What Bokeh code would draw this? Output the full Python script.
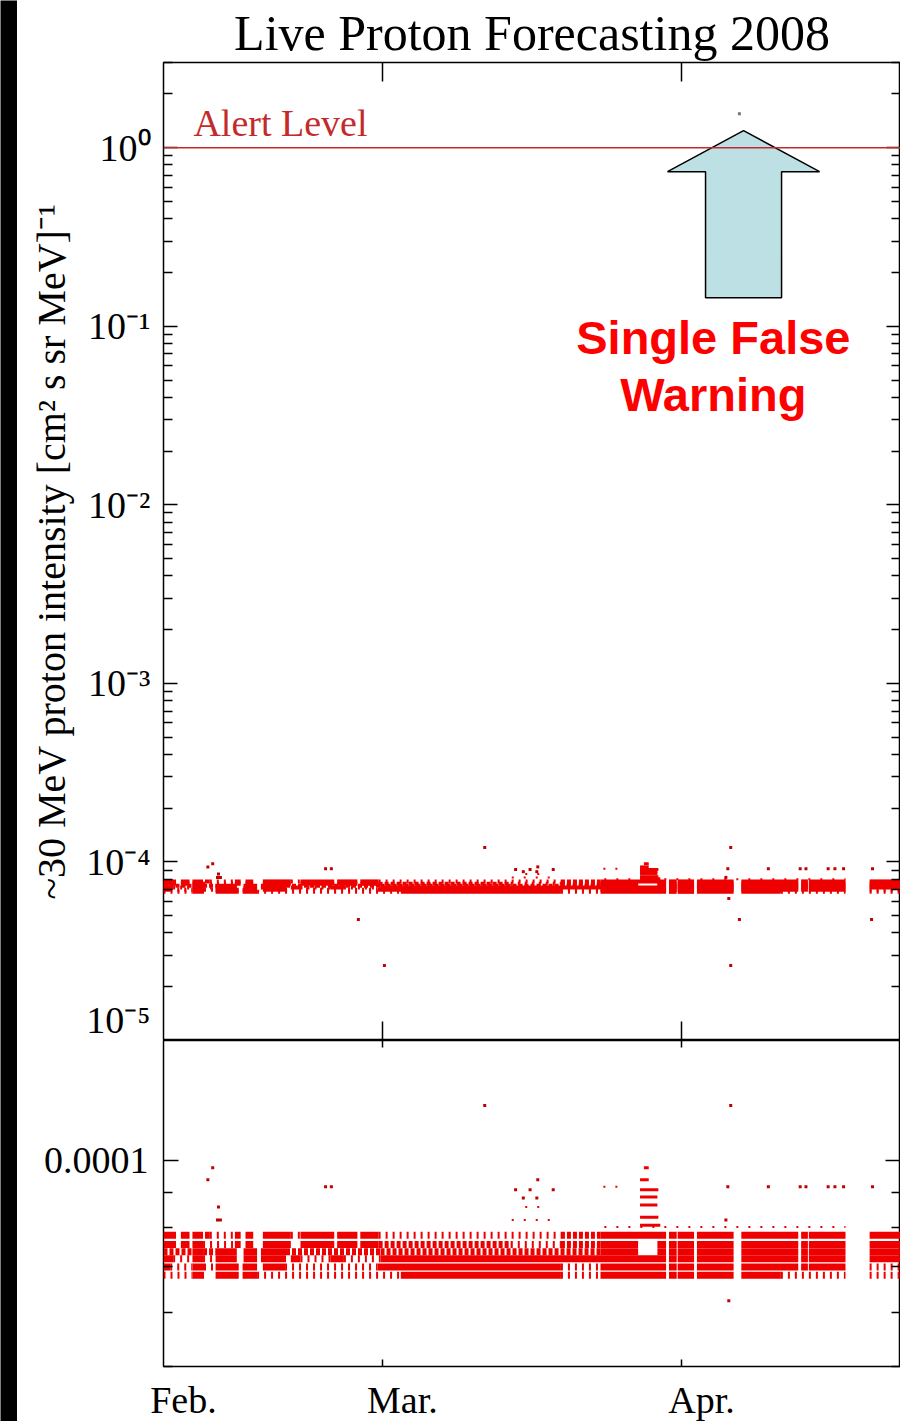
from bokeh.plotting import figure
from bokeh.models import (ColumnDataSource, Range1d, FixedTicker, LogAxis,
                          LinearAxis, Label, Span)
from bokeh.layouts import row, column
from bokeh.embed import file_html
from bokeh.resources import INLINE

# ------------------------------------------------------------------ data
title_text = "Live Proton Forecasting 2008"
y_label = "~30 MeV proton intensity [cm² s sr MeV]⁻¹"

# x axis: day of year 2008
x_start, x_end = 38.3, 114.7
month_labels = ["Feb.", "Mar.", "Apr."]
month_days = [38.3, 61.0, 92.0]
tick_days = [61.0, 92.0]

decade_ticks = [1e-5, 1e-4, 1e-3, 1e-2, 1e-1, 1.0]
decade_labels = ["10⁻⁵", "10⁻⁴", "10⁻³", "10⁻²", "10⁻¹", "10⁰"]
zoom_ticks = [1e-4]
zoom_labels = ["0.0001"]

alert_level = 1.0
alert_text = "Alert Level"
warn_day = 98.0
warn_value = 1.55
warn_text = ["Single False", "Warning"]

# quantised intensity rows of the background band
row_levels = [7.78e-5, 7.54e-5, 7.36e-5, 7.19e-5, 6.99e-5, 6.80e-5]

row1_dense = [(38.3, 39.6), (40.1, 41.0), (41.3, 42.4), (42.6, 43.1), (45.7, 46.3),
              (46.8, 47.6), (48.6, 51.5), (52.5, 56.0), (56.3, 58.4), (58.7, 60.6),
              (83.6, 90.4), (90.7, 91.5), (91.6, 93.3), (93.6, 97.4), (98.2, 104.1),
              (104.4, 105.1), (105.2, 109.0), (111.5, 114.7)]
row1_medium = [(79.5, 83.6)]
row1_sparse = [(43.1, 45.7), (51.5, 52.5), (60.6, 79.5)]

row2_dense = [(38.3, 39.6), (40.1, 41.0), (41.3, 42.4), (45.7, 46.3), (46.8, 47.6),
              (48.6, 51.5), (52.5, 56.0), (56.3, 58.4), (58.7, 60.6), (83.6, 87.5),
              (89.5, 90.4), (90.7, 91.5), (91.6, 93.3), (93.6, 97.4), (98.2, 104.1),
              (104.4, 105.1), (105.2, 109.0), (111.5, 114.7)]
row2_medium = [(60.6, 74.3), (79.5, 83.6)]
row2_sparse = [(42.4, 45.7), (74.3, 79.5)]

row3_dense = [(41.3, 42.4), (43.7, 45.9), (46.6, 48.0), (48.4, 51.0), (83.6, 87.5),
              (89.5, 90.4), (90.7, 91.5), (91.6, 93.3), (93.6, 97.4), (98.2, 104.1),
              (104.4, 105.1), (105.2, 109.0), (111.5, 114.7)]
row3_medium = [(38.3, 41.3), (42.4, 43.7), (51.0, 60.8), (60.8, 83.6)]
row3_sparse = []

row4_dense = [(38.3, 39.3), (41.3, 42.4), (43.7, 45.9), (46.6, 48.0), (48.4, 51.0),
              (51.5, 52.5), (55.6, 57.0), (60.8, 90.4), (90.7, 91.5), (91.6, 93.3),
              (93.6, 97.4), (98.2, 104.1), (104.4, 105.1), (105.2, 109.0), (111.5, 114.7)]
row4_medium = []
row4_sparse = [(39.3, 41.3), (42.4, 43.7), (52.5, 55.6), (57.0, 60.8)]

row5_dense = [(38.3, 39.0), (41.3, 42.5), (43.7, 46.1), (46.5, 48.0), (48.6, 50.9),
              (60.5, 79.5), (83.6, 90.4), (90.7, 91.5), (91.6, 93.3), (93.6, 97.4),
              (98.2, 104.1), (104.4, 105.1), (105.2, 109.0)]
row5_medium = []
row5_sparse = [(39.0, 41.3), (42.5, 43.7), (50.9, 60.5), (79.5, 83.6), (111.5, 114.7)]

row6_dense = [(41.3, 42.5), (43.7, 46.1), (46.5, 48.0), (62.9, 79.5), (83.6, 90.4),
              (90.7, 91.5), (91.6, 93.3), (93.6, 97.4), (98.2, 102.3)]
row6_medium = []
row6_sparse = [(38.3, 41.3), (48.0, 62.9), (79.5, 83.6), (102.3, 109.0), (111.5, 114.7)]

# enhancement on ~27 March: short runs of points
spike_levels = [9.77e-5, 9.38e-5, 9.07e-5, 8.85e-5, 8.62e-5, 8.27e-5, 8.05e-5]
spike_start = [88.1, 87.7, 87.7, 87.7, 87.7, 87.7, 87.7]
spike_end = [88.6, 88.6, 89.6, 89.5, 89.5, 89.6, 89.8]

# loose rows of scattered points
loose_levels = [8.00e-5, 9.16e-5, 8.19e-5, 8.56e-5]
loose_start = [84.0, 83.9, 74.4, 75.8]
loose_end = [109.0, 85.9, 78.4, 77.5]

# isolated points
pt_day = [43.4, 42.9, 44.0, 43.9, 44.2, 55.1, 55.7, 71.6, 97.1, 96.9, 96.6,
          58.5, 61.2, 97.1, 98.0, 111.7, 77.1, 74.8, 76.3, 78.7, 75.6, 77.0,
          96.8, 101.0, 104.3, 104.9, 107.2, 107.9, 108.8, 111.8]
pt_val = [9.77e-5, 9.38e-5, 8.56e-5, 8.19e-5, 8.19e-5, 9.16e-5, 9.16e-5, 1.205e-4,
          1.205e-4, 6.24e-5, 8.19e-5, 4.76e-5, 2.63e-5, 2.63e-5, 4.76e-5, 4.76e-5,
          9.38e-5, 9.07e-5, 9.07e-5, 9.07e-5, 8.82e-5, 8.82e-5, 9.16e-5, 9.16e-5,
          9.16e-5, 9.16e-5, 9.16e-5, 9.16e-5, 9.16e-5, 9.16e-5]

# ------------------------------------------------------------------ styles
SERIF = "Liberation Serif"
RED = "#ee0000"
ALERT_RED = "#c42a2a"
FRAME_W = 737
LEFT = 146

rows = [
    (row_levels[0], row1_dense, row1_medium, row1_sparse),
    (row_levels[1], row2_dense, row2_medium, row2_sparse),
    (row_levels[2], row3_dense, row3_medium, row3_sparse),
    (row_levels[3], row4_dense, row4_medium, row4_sparse),
    (row_levels[4], row5_dense, row5_medium, row5_sparse),
    (row_levels[5], row6_dense, row6_medium, row6_sparse),
]


def collect(k):
    x0, x1, y = [], [], []
    for level, *kinds in rows:
        for a, b in kinds[k]:
            x0.append(a)
            x1.append(b)
            y.append(level)
    return ColumnDataSource(dict(x0=x0, x1=x1, y=y))


dense_src = collect(0)
medium_src = collect(1)
sparse_src = collect(2)
spike_src = ColumnDataSource(dict(x0=spike_start, x1=spike_end, y=spike_levels))
loose_src = ColumnDataSource(dict(x0=loose_start, x1=loose_end, y=loose_levels))
pt_src = ColumnDataSource(dict(x=pt_day, y=pt_val))

shared_x = Range1d(x_start, x_end)


def make_fig(y_range, frame_h, top_border, bottom_border):
    p = figure(frame_width=FRAME_W, frame_height=frame_h, x_range=shared_x,
               y_range=y_range, y_axis_type="log", toolbar_location=None,
               output_backend="svg", min_border_left=LEFT, min_border_right=0,
               min_border_top=top_border, min_border_bottom=bottom_border,
               background_fill_color="white", border_fill_color="white",
               outline_line_color="black", outline_line_width=1.5)
    p.xgrid.visible = False
    p.ygrid.visible = False
    return p


def hide_labels(ax):
    ax.major_label_text_font_size = "1px"
    ax.major_label_text_color = None
    ax.major_label_standoff = 0


def tick_only(ax, tick_in):
    ax.axis_line_color = None
    ax.major_tick_in = tick_in
    ax.major_tick_out = 0
    ax.major_tick_line_color = "black"
    ax.major_tick_line_width = 1.5
    ax.minor_tick_line_color = None
    hide_labels(ax)


def y_axis_style(ax, major_in, minor_in, labels):
    ax.axis_line_color = None
    ax.major_tick_in = major_in
    ax.major_tick_out = 0
    ax.minor_tick_in = minor_in
    ax.minor_tick_out = 0
    ax.major_tick_line_color = "black"
    ax.minor_tick_line_color = "black"
    ax.major_tick_line_width = 1.5
    ax.minor_tick_line_width = 1.5
    if labels:
        ax.major_label_text_font = SERIF
        ax.major_label_text_font_size = "38px"
        ax.major_label_text_color = "black"
        ax.major_label_standoff = 13
    else:
        hide_labels(ax)


def draw_data(p, lw, dot):
    p.segment(x0="x0", y0="y", x1="x1", y1="y", source=dense_src,
              line_color=RED, line_width=lw)
    p.segment(x0="x0", y0="y", x1="x1", y1="y", source=medium_src,
              line_color=RED, line_width=lw, line_dash="4 2")
    p.segment(x0="x0", y0="y", x1="x1", y1="y", source=sparse_src,
              line_color=RED, line_width=lw, line_dash="2 5")
    p.segment(x0="x0", y0="y", x1="x1", y1="y", source=spike_src,
              line_color=RED, line_width=3)
    p.segment(x0="x0", y0="y", x1="x1", y1="y", source=loose_src,
              line_color=RED, line_width=2, line_dash="2 10")
    p.scatter(x="x", y="y", source=pt_src, marker="square", size=dot,
              fill_color="#c00000", line_color=None)


# ------------------------------------------------------------------ top panel
top = make_fig(Range1d(1e-5, 3.0), 978, 62, 0)
top.title.text = title_text
top.title.text_font = SERIF
top.title.text_font_size = "50px"
top.title.text_font_style = "normal"
top.title.text_color = "black"
top.title.align = "center"
top.title.vertical_align = "top"
top.title.text_line_height = 0.8
top.title.standoff = 0

minor_top = [m * 10.0 ** e for e in range(-5, 1) for m in range(2, 10)]
minor_top = [v for v in minor_top if v <= 3.0]
ly = top.yaxis[0]
ly.ticker = FixedTicker(ticks=decade_ticks, minor_ticks=minor_top)
ly.major_label_overrides = dict(zip(decade_ticks, decade_labels))
y_axis_style(ly, 14, 9, True)
ly.axis_label = y_label
ly.axis_label_text_font = SERIF
ly.axis_label_text_font_size = "40px"
ly.axis_label_text_font_style = "normal"
ly.axis_label_text_color = "black"
ly.axis_label_standoff = 9

ry = LogAxis(ticker=FixedTicker(ticks=decade_ticks, minor_ticks=minor_top))
y_axis_style(ry, 14, 9, False)
top.add_layout(ry, "right")

top_below = top.below[0]
top_below.ticker = FixedTicker(ticks=tick_days)
tick_only(top_below, 19)
ta = LinearAxis(ticker=FixedTicker(ticks=tick_days))
tick_only(ta, 19)
top.add_layout(ta, "above")

draw_data(top, 4, 3)

top.add_layout(Span(location=alert_level, dimension="width",
                    line_color=ALERT_RED, line_width=1.5))
top.add_layout(Label(x=41.4, y=1.38, text=alert_text, text_font=SERIF,
                     text_font_size="38px", text_color=ALERT_RED,
                     text_baseline="alphabetic"))

# block arrow pointing at the false warning
arrow_x = [98.43, 106.31, 102.37, 102.37, 94.49, 94.49, 90.55]
arrow_y = [1.245, 0.734, 0.734, 0.1446, 0.1446, 0.734, 0.734]
top.patch(arrow_x, arrow_y, fill_color="#bde0e4", line_color="black",
          line_width=1.5)
top.scatter([warn_day], [warn_value], marker="square", size=3,
            fill_color="#777777", line_color=None)
for txt, yv in zip(warn_text, [0.0863, 0.0414]):
    top.add_layout(Label(x=95.3, y=yv, text=txt, text_font="Liberation Sans",
                         text_font_size="47px", text_font_style="bold",
                         text_color="#ff0000", text_align="center",
                         text_baseline="alphabetic"))

# ------------------------------------------------------------------ bottom panel
bot = make_fig(Range1d(5e-5, 1.5e-4), 326, 0, 55)
minor_bot = [5e-5, 6e-5, 7e-5, 8e-5, 9e-5]
lb = bot.yaxis[0]
lb.ticker = FixedTicker(ticks=zoom_ticks, minor_ticks=minor_bot)
lb.major_label_overrides = dict(zip(zoom_ticks, zoom_labels))
y_axis_style(lb, 15, 9, True)
lb.major_label_standoff = 15

rb = LogAxis(ticker=FixedTicker(ticks=zoom_ticks, minor_ticks=minor_bot))
y_axis_style(rb, 15, 9, False)
bot.add_layout(rb, "right")

bot_below = bot.below[0]
bot_below.ticker = FixedTicker(ticks=tick_days)
tick_only(bot_below, 7)
ba = LinearAxis(ticker=FixedTicker(ticks=tick_days))
tick_only(ba, 7)
bot.add_layout(ba, "above")

label_shift = 2.07
label_pos = [d + label_shift for d in month_days]
lab = LinearAxis(ticker=FixedTicker(ticks=label_pos))
lab.major_label_overrides = dict(zip(label_pos, month_labels))
lab.axis_line_color = None
lab.major_tick_line_color = None
lab.major_tick_in = 0
lab.major_tick_out = 0
lab.minor_tick_line_color = None
lab.major_label_text_font = SERIF
lab.major_label_text_font_size = "38px"
lab.major_label_text_color = "black"
lab.major_label_standoff = 12
bot.add_layout(lab, "below")

draw_data(bot, 7, 3)

# ------------------------------------------------------------------ black strip at left edge
strip = figure(width=17, height=1421, toolbar_location=None, output_backend="svg",
               min_border=0, x_axis_location=None, y_axis_location=None,
               background_fill_color="black", border_fill_color="black",
               outline_line_color=None)
strip.xgrid.visible = False
strip.ygrid.visible = False
strip.scatter([0], [0], alpha=0)

layout = row(strip, column(top, bot, spacing=0), spacing=0)
open("out.html", "w").write(file_html(layout, INLINE))
